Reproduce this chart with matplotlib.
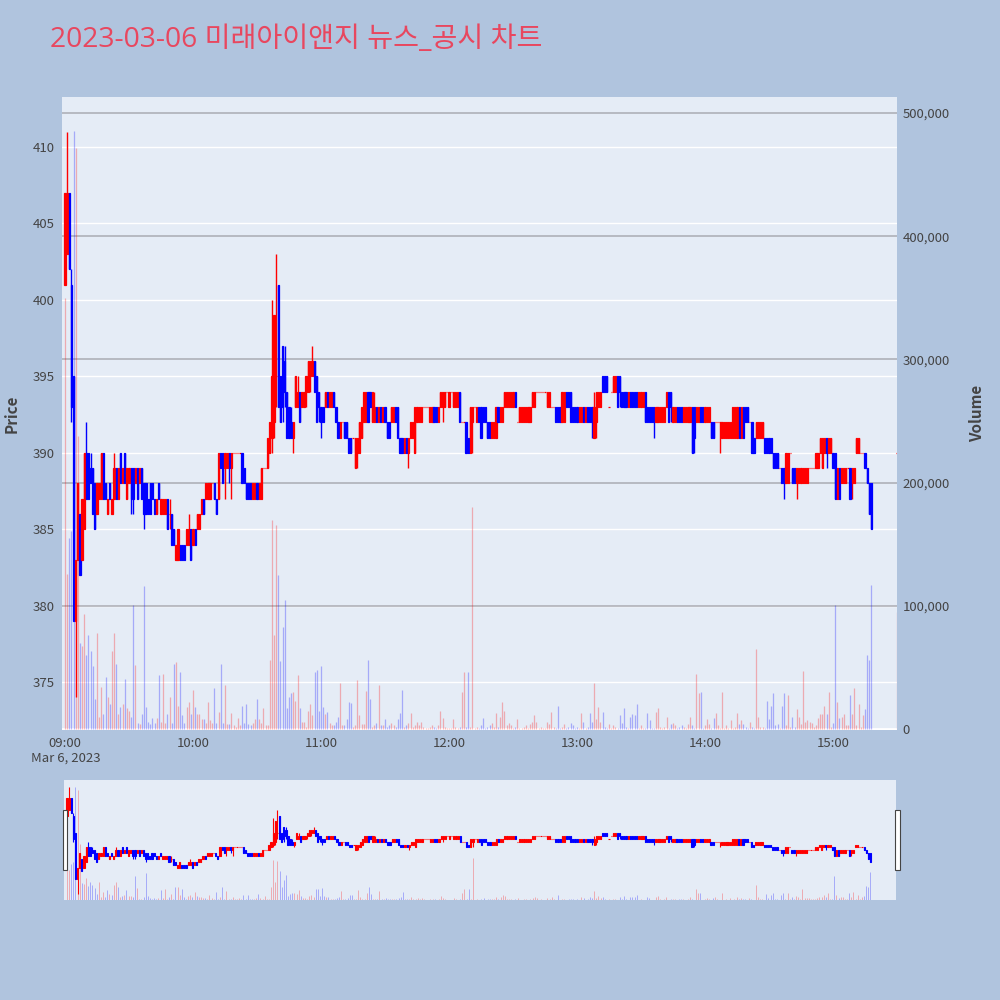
import matplotlib
matplotlib.use('Agg')
import matplotlib.pyplot as plt
import numpy as np
import pandas as pd
from matplotlib.transforms import blended_transform_factory
from matplotlib.patches import Rectangle

plt.rcParams['font.family'] = ['Noto Sans CJK KR', 'DejaVu Sans']

TITLE = '2023-03-06 미래아이앤지 뉴스_공시 차트'

# minute timestamps (09:00 .. 15:18) plus the closing auction at 15:30
times = list(pd.date_range('2023-03-06 09:00', periods=379, freq='min')) + [pd.Timestamp('2023-03-06 15:30')]

open_ = [
 401,403,407,401,395,379,383,386,383,385, 390,390,389,389,388,386,387,387,390,388,
 386,388,386,387,389,387,390,388,390,387, 388,389,389,388,389,388,389,388,388,387,
 388,388,387,386,388,386,386,386,387,386, 386,385,383,383,384,384,384,384,384,385,
 384,385,385,385,386,387,387,387,387,388, 388,387,387,390,390,389,389,390,389,390,
 390,390,390,390,389,388,388,388,387,387, 388,387,387,389,389,389,390,391,392,395,
 401,395,397,396,394,393,392,391,393,393, 394,393,393,394,394,395,395,396,395,394,
 393,393,393,394,393,393,394,393,392,391, 392,392,392,391,391,391,389,390,390,391,
 392,392,394,394,392,392,393,392,393,392, 393,392,392,392,392,393,393,391,391,390,
 391,390,391,391,390,392,392,392,393,393, 393,392,392,393,393,392,393,393,393,394,
 393,394,393,393,393,394,392,392,392,391, 390,392,393,392,393,393,393,393,392,392,
 391,391,391,393,392,392,393,393,393,393, 393,394,392,392,392,392,392,392,392,393,
 393,394,394,394,394,394,393,393,393,393, 393,393,393,392,392,394,394,394,393,393,
 393,392,392,393,392,393,393,393,391,392, 393,393,395,395,395,393,394,394,394,395,
 395,394,394,394,393,394,394,394,394,393, 393,393,394,393,393,393,393,392,392,392,
 392,392,393,394,394,392,392,393,393,393, 392,392,392,392,393,393,392,392,393,393,
 392,392,392,392,392,392,392,392,391,391, 391,391,391,391,391,391,393,391,393,393,
 393,392,392,391,391,391,391,391,391,391, 391,391,390,390,390,389,389,389,388,388,
 390,389,389,388,388,388,388,388,388,389, 389,389,389,389,390,389,390,391,390,390,
 390,390,387,389,388,388,388,389,389,388, 388,390,390,390,390,390,389,388,388,390]
high = [
 407,411,407,402,395,383,388,386,387,390, 392,390,390,389,388,388,388,390,390,388,
 387,388,387,390,389,389,390,389,390,389, 389,389,389,389,389,389,389,388,388,387,
 388,388,387,387,388,387,387,387,387,387, 386,385,384,385,384,384,384,385,386,385,
 385,385,386,386,387,387,388,388,388,388, 388,387,390,390,390,390,390,390,390,390,
 390,390,390,390,389,388,388,388,388,388, 388,388,389,389,389,391,392,400,399,403,
 401,395,397,397,394,393,393,392,395,395, 394,394,394,395,396,396,397,396,395,394,
 393,393,394,394,394,394,394,393,392,392, 392,392,392,391,391,391,391,391,392,393,
 394,394,394,394,394,394,393,393,393,393, 393,392,392,393,393,393,393,391,391,391,
 391,391,392,392,393,393,393,393,393,393, 393,393,393,393,393,393,394,394,394,394,
 394,394,394,394,394,394,392,392,392,391, 393,393,393,393,393,393,393,393,392,392,
 392,392,393,393,393,393,394,394,394,394, 394,394,392,393,393,393,393,393,393,394,
 394,394,394,394,394,394,394,394,393,393, 393,393,393,394,394,394,394,394,393,393,
 393,393,393,393,393,393,393,393,394,394, 394,394,395,395,395,393,394,395,395,395,
 395,394,394,394,394,394,394,394,394,394, 394,394,394,393,393,393,393,393,393,393,
 393,393,394,394,394,393,393,393,393,393, 393,393,393,393,393,393,393,393,393,393,
 393,393,393,392,392,392,392,392,392,392, 392,392,392,393,393,393,393,393,393,393,
 393,392,392,391,392,392,392,392,391,391, 391,391,390,390,390,389,389,389,390,390,
 390,389,389,389,389,389,389,389,389,389, 389,389,390,390,391,391,391,391,391,391,
 390,390,389,389,389,389,389,389,389,389, 389,391,391,390,390,390,389,388,388,390]
low = [
 401,403,402,392,379,374,383,382,383,385, 387,387,388,386,385,386,387,387,387,387,
 386,387,386,387,387,387,388,388,388,387, 388,386,386,388,387,388,387,385,386,386,
 386,387,386,386,387,386,386,386,385,385, 384,384,383,383,383,383,383,384,384,383,
 384,384,385,385,386,386,387,387,387,388, 387,386,387,389,388,387,389,388,387,390,
 390,390,390,388,388,387,387,387,387,387, 387,387,387,389,389,389,390,390,391,393,
 393,392,392,393,391,391,391,390,393,393, 392,393,393,393,394,394,395,394,392,392,
 391,392,393,393,393,393,393,392,391,391, 392,391,391,390,390,391,389,389,390,391,
 392,392,392,393,392,392,392,392,392,392, 392,391,391,392,392,392,391,390,390,390,
 390,389,391,391,390,392,392,392,393,393, 393,392,392,392,392,392,393,392,393,394,
 393,394,393,393,393,392,392,392,390,390, 390,390,393,392,392,391,392,392,391,391,
 391,391,391,392,392,392,393,393,393,393, 393,393,392,392,392,392,392,392,392,393,
 393,394,394,394,394,394,393,393,393,393, 392,392,392,392,392,393,393,392,392,392,
 392,392,392,392,392,392,392,391,391,391, 393,393,394,394,394,393,394,394,394,393,
 393,393,393,393,393,393,393,393,393,393, 393,393,392,392,392,392,391,392,392,392,
 392,392,393,392,392,392,392,392,392,392, 392,392,392,392,390,390,392,392,392,392,
 392,392,392,391,391,392,392,390,391,391, 391,391,391,391,391,391,391,391,391,392,
 392,392,390,390,391,391,391,391,390,390, 390,390,389,389,389,389,388,387,388,388,
 390,388,388,387,388,388,388,388,388,389, 389,389,389,389,390,389,390,389,390,390,
 389,387,387,387,388,388,388,389,387,387, 388,390,390,390,390,389,388,386,385,390]
close = [
 407,407,402,393,379,383,388,382,387,390, 387,387,388,386,385,388,388,390,387,387,
 387,387,387,389,387,389,388,389,388,389, 389,387,387,389,387,389,387,386,386,386,
 386,387,386,387,387,387,387,387,385,386, 384,384,384,385,383,383,383,385,385,383,
 385,384,386,386,387,386,388,388,388,388, 387,386,390,389,388,390,390,389,390,390,
 390,390,390,388,388,387,387,387,388,388, 387,388,389,389,389,391,392,395,399,395,
 393,392,393,394,391,391,391,392,395,394, 392,394,394,395,396,396,396,394,392,393,
 392,392,394,393,394,394,393,392,391,392, 392,391,391,390,390,391,391,391,392,393,
 394,394,392,393,394,393,392,393,392,393, 392,391,391,393,393,392,391,390,390,391,
 390,391,392,392,393,393,393,393,393,393, 393,393,393,392,392,393,394,394,394,394,
 394,394,394,394,394,392,392,392,390,390, 393,393,393,393,392,391,392,392,391,391,
 392,392,393,392,393,393,394,394,394,394, 394,393,392,393,393,393,393,393,393,394,
 394,394,394,394,394,394,394,394,393,393, 392,392,392,394,394,393,393,392,392,392,
 392,393,393,392,393,392,392,392,393,394, 394,394,394,394,394,393,394,395,395,393,
 394,393,393,393,394,393,393,393,393,394, 394,394,392,392,392,392,392,393,393,393,
 393,393,394,392,393,393,393,392,392,392, 393,393,393,393,390,391,393,393,392,392,
 393,393,393,391,391,392,392,392,392,392, 392,392,392,393,393,393,391,393,391,392,
 392,392,390,390,392,392,392,392,390,390, 390,390,389,389,389,389,388,388,390,390,
 390,388,388,389,389,389,389,389,389,389, 389,389,390,390,391,391,391,390,391,391,
 389,387,389,387,389,389,389,389,387,389, 389,391,391,390,390,389,388,386,385,390]
volume_k = [
 350,126,155,161,485,472,238,70,67,93, 60,76,63,51,24,78,10,34,12,42,
 26,20,63,78,53,12,18,20,41,17, 15,10,101,52,5,4,12,116,18,6,
 4,9,5,9,44,6,45,5,12,26, 5,53,54,19,46,11,5,18,22,12,
 32,18,12,12,8,8,5,22,7,5, 33,5,14,53,5,36,4,4,13,3,
 2,9,3,19,5,20,4,3,5,8, 24,8,5,17,3,3,56,170,76,166,
 125,55,83,105,17,26,29,30,23,44, 17,6,6,2,15,20,11,46,48,15,
 51,18,12,14,5,3,3,6,10,37, 3,3,8,22,21,2,3,40,11,4,
 4,31,56,24,2,3,5,36,3,3, 8,2,3,5,3,2,8,13,32,2,
 3,5,13,2,3,6,3,6,2,1, 1,2,3,2,1,3,15,9,2,1,
 1,1,8,2,1,2,30,46,2,46, 2,180,1,2,1,3,9,1,2,3,
 5,2,13,2,10,22,15,3,5,3, 1,2,8,1,1,2,3,1,4,6,
 11,6,1,2,1,1,6,4,14,2, 1,19,1,2,4,1,2,5,3,1,
 2,1,13,6,1,2,13,6,37,8, 18,6,14,2,1,4,1,3,2,1,
 11,5,17,2,1,10,12,11,20,1, 3,1,1,13,7,1,1,14,17,2,
 1,2,10,1,4,5,3,1,2,3, 2,1,4,10,3,1,45,29,30,1,
 3,8,4,1,9,13,3,1,30,1, 3,1,7,1,2,13,4,7,4,2,
 1,6,2,1,65,10,2,2,1,23, 8,19,29,3,4,1,19,29,3,28,
 2,10,2,16,10,4,47,6,7,6, 5,2,3,9,12,12,19,12,30,2,
 5,101,22,9,10,12,3,3,28,12, 33,3,20,2,11,16,60,56,117,95]

price_ticks = [375, 380, 385, 390, 395, 400, 405, 410]
volume_ticks = [0, 100000, 200000, 300000, 400000, 500000]
hour_labels = ['09:00', '10:00', '11:00', '12:00', '13:00', '14:00', '15:00']
date_label = 'Mar 6, 2023'

# ---------------------------------------------------------------
t0 = pd.Timestamp('2023-03-06 09:00')
x = np.array([(t - t0).total_seconds() / 60.0 for t in times])
o = np.array(open_, float); h = np.array(high, float)
l = np.array(low, float); c = np.array(close, float)
vol = np.array(volume_k, float) * 1000
up = c >= o
RED, BLUE = '#FF0000', '#0000FF'
ccol = np.where(up, RED, BLUE)
vcol = [(1, 0, 0, 0.28) if u else (0, 0, 1, 0.28) for u in up]

XLIM = (-1.4, 390.0)
PLIM = (371.87, 413.27)
VLIM = (-800, 513000)
BG = '#B0C4DE'
PLOT_BG = '#E5ECF6'
TXT = '#444444'

fig = plt.figure(figsize=(10, 10), dpi=100)
fig.patch.set_facecolor(BG)


def draw_panel(axv, axp, wick_lw, body_w, body_lw, vol_lw, grids=True):
    axv.set_facecolor(PLOT_BG)
    axp.patch.set_visible(False)
    for a in (axv, axp):
        a.set_xlim(*XLIM)
        for s in a.spines.values():
            s.set_visible(False)
    axv.set_ylim(*VLIM)
    axp.set_ylim(*PLIM)
    if grids:
        tr = blended_transform_factory(axv.transAxes, axp.transData)
        for p in price_ticks:
            axv.plot([0, 1], [p, p], transform=tr, color='white', lw=1.0, zorder=0.2)
        axv.axhline(0, color='white', lw=2.0, zorder=0.3)
        for v in volume_ticks[1:]:
            axv.axhline(v, color='#A9ABB3', lw=1.1, zorder=0.4)
    axv.vlines(x, 0, vol, colors=vcol, lw=vol_lw, zorder=1)
    axp.vlines(x, l, h, colors=ccol, lw=wick_lw, zorder=2)
    axp.bar(x, c - o, bottom=o, width=body_w, color=ccol, edgecolor=ccol,
            linewidth=body_lw, zorder=3)


# main chart: volume on primary (right ticks), price on twin (left ticks)
axv = fig.add_axes([0.062, 0.27, 0.835, 0.633])
axp = axv.twinx()
draw_panel(axv, axp, wick_lw=1.0, body_w=0.55, body_lw=0.9, vol_lw=0.9)

axp.yaxis.tick_left()
axp.yaxis.set_label_position('left')
axp.set_yticks(price_ticks)
axp.set_yticklabels([str(p) for p in price_ticks])
axv.yaxis.tick_right()
axv.yaxis.set_label_position('right')
axv.set_yticks(volume_ticks)
axv.set_yticklabels([f'{v:,}' for v in volume_ticks])
for a in (axp, axv):
    a.tick_params(axis='y', length=0, labelsize=9.5, labelcolor=TXT, pad=5)
axp.tick_params(axis='y', pad=5)
axv.tick_params(axis='y', pad=4)
axv.set_xticks([60 * i for i in range(len(hour_labels))])
axv.set_xticklabels(hour_labels)
axv.tick_params(axis='x', length=0, labelsize=9.5, labelcolor=TXT, pad=5)
axp.tick_params(axis='x', length=0, labelbottom=False)
axp.set_ylabel('Price', fontsize=11, color=TXT, fontweight='bold', labelpad=10)
axv.set_ylabel('Volume', fontsize=11, color=TXT, fontweight='bold', labelpad=14)
fig.text(0.066, 0.242, date_label, fontsize=9.5, color=TXT, ha='center', va='center')

fig.text(0.05, 0.96, TITLE, fontsize=20.3, color='#E8475F', ha='left', va='center',
         family=['Open Sans', 'Noto Sans CJK KR', 'DejaVu Sans'])

# range slider
rsv = fig.add_axes([0.064, 0.10, 0.832, 0.12])
rsp = rsv.twinx()
draw_panel(rsv, rsp, wick_lw=0.8, body_w=0.55, body_lw=0.8, vol_lw=0.7, grids=False)
for a in (rsv, rsp):
    a.set_xticks([]); a.set_yticks([])
for gx in (0.0625, 0.895):
    fig.patches.append(Rectangle((gx, 0.130), 0.0045, 0.060, transform=fig.transFigure,
                                 facecolor='white', edgecolor='#444444', lw=0.8, zorder=5))

fig.savefig('out.png', dpi=100, facecolor=BG)
